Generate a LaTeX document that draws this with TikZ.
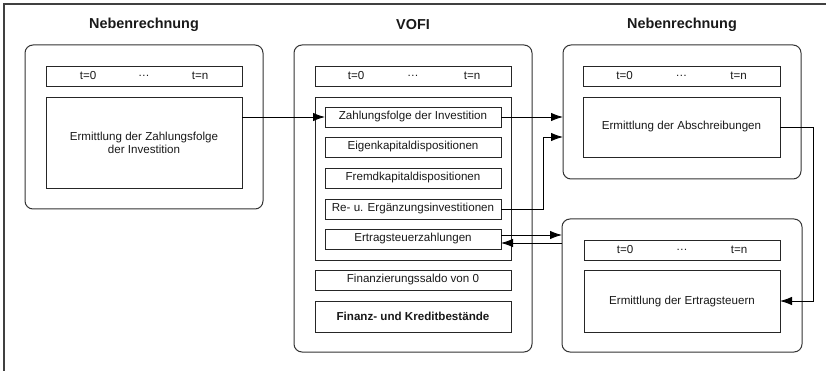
\documentclass[tikz,border=0pt]{standalone}
\usepackage{fontspec}
\setmainfont{Liberation Sans}
\usetikzlibrary{arrows.meta}
\begin{document}
\begin{tikzpicture}[x=1pt,y=-1pt,
  every node/.style={inner sep=0pt,outer sep=0pt,font=\fontsize{11.6}{13}\selectfont,text=black!90},
  title/.style={font=\fontsize{14.4}{16}\selectfont\bfseries},
  outerbox/.style={draw=black!80,line width=1pt,rounded corners=8pt},
  box/.style={draw=black!85,line width=0.9pt,minimum width=196pt},
  item/.style={draw=black!85,line width=0.9pt,minimum width=176pt,minimum height=20pt},
  arr/.style={draw=black,line width=0.9pt,-{Latex[length=12pt,width=8.5pt]}}
]
\useasboundingbox (0,0) rectangle (826,371);
\draw[black!75,line width=1.5pt] (4,371) -- (4,4) -- (826,4);

% titles
\node[title] (t1) at (144,25) {Nebenrechnung};
\node[title] (t2) at (413,25) {VOFI};
\node[title] (t3) at (682,25) {Nebenrechnung};

% left Nebenrechnung
\node[outerbox,minimum width=238pt,minimum height=164pt] (lo) at (144,127) {};
\node[box,minimum height=20pt] (lt) at (144,76) {};
\node (lt0) at ([xshift=-56pt]lt.center) {t=0};
\node (ltd) at (lt.center) {…};
\node (ltn) at ([xshift=56pt]lt.center) {t=n};
\node[box,minimum height=91pt,align=center] (lbig) at (144,142.5) {Ermittlung der Zahlungsfolge\\der Investition};

% VOFI
\node[outerbox,minimum width=238pt,minimum height=307pt] (vo) at (413,198.5) {};
\node[box,minimum height=20pt] (vt) at (413,76) {};
\node (vt0) at ([xshift=-57pt]vt.center) {t=0};
\node (vtd) at (vt.center) {…};
\node (vtn) at ([xshift=59pt]vt.center) {t=n};
\node[box,minimum height=163pt] (vin) at (413,178.5) {};
\node[item] (z1) at (413,117) {Zahlungsfolge der Investition};
\node[item] (ek) at (413,147) {Eigenkapitaldispositionen};
\node[item] (fk) at (413,178) {Fremdkapitaldispositionen};
\node[item] (re) at (413,209) {Re- u. Ergänzungsinvestitionen};
\node[item] (ert) at (413,239) {Ertragsteuerzahlungen};
\node[box,minimum height=20pt] (fs) at (413,280) {Finanzierungssaldo von 0};
\node[box,minimum height=31pt,font=\fontsize{11.6}{13}\selectfont\bfseries] (fkb) at (413,316.5) {Finanz- und Kreditbestände};

% right top Nebenrechnung
\node[outerbox,minimum width=238pt,minimum height=134pt] (rto) at (682,112) {};
\node[box,minimum height=20pt,minimum width=197pt] (rtt) at (681.5,76) {};
\node (rt0) at ([xshift=-57pt]rtt.center) {t=0};
\node (rtd) at (rtt.center) {…};
\node (rtn) at ([xshift=57pt]rtt.center) {t=n};
\node[box,minimum height=60pt,minimum width=197pt] (rtbig) at (681.5,127) {Ermittlung der Abschreibungen};

% right bottom Nebenrechnung
\node[outerbox,minimum width=240pt,minimum height=133pt] (rbo) at (682,285.5) {};
\node[box,minimum height=20pt] (rbt) at (682,250) {};
\node (rb0) at ([xshift=-57pt]rbt.center) {t=0};
\node (rbd) at (rbt.center) {…};
\node (rbn) at ([xshift=57pt]rbt.center) {t=n};
\node[box,minimum height=62pt] (rbbig) at (682,301) {Ermittlung der Ertragsteuern};

% connectors
\coordinate (c3) at (543,137);
\coordinate (c4) at (813,127);
\draw[arr] (lbig.east |- z1.west) -- (z1.west);
\draw[arr] (z1.east) -- (z1.east -| rto.west);
\draw[arr] (re.east) -| (c3) -- (c3 -| rto.west);
\draw[arr] (rtbig.east) -- (c4) -- (c4 |- rbbig.east) -- (rbbig.east);
\draw[arr] ([yshift=4pt]ert.east) -- ([yshift=4pt]ert.east -| rbo.west);
\draw[arr] ([yshift=-4pt]ert.east -| rbo.west) -- ([yshift=-4pt]ert.east);
\end{tikzpicture}
\end{document}
